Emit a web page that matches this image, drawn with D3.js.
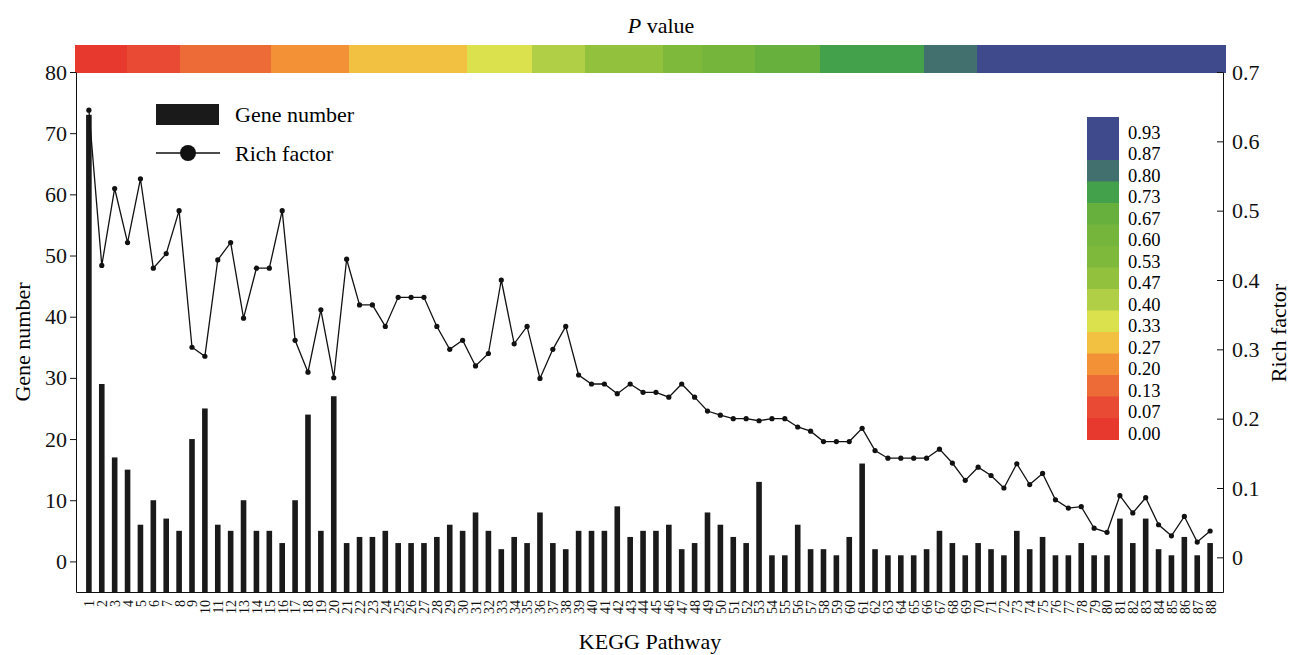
<!DOCTYPE html>
<html>
<head>
<meta charset="utf-8">
<script src="https://cdn.jsdelivr.net/npm/d3@7"></script>
<style>
  body { margin: 0; background: #fff; }
  svg { display: block; font-family: "Liberation Serif", "Times New Roman", serif; }
  .axis path, .axis line { stroke: #111; }
  .axis text { fill: #111; }
</style>
</head>
<body>
<div id="chart"></div>
<script>
// KEGG pathway ids
const pathways = ["1","2","3","4","5","6","7","8","9","10","11","12","13","14","15","16","17","18","19","20",
  "21","22","23","24","25","26","27","28","29","30","31","32","33","34","35","36","37","38","39","40",
  "41","42","43","44","45","46","47","48","49","50","51","52","53","54","55","56","57","58","59","60",
  "61","62","63","64","65","66","67","68","69","70","71","72","73","74","75","76","77","78","79","80",
  "81","82","83","84","85","86","87","88"];

const geneNumber = [73,29,17,15,6,10,7,5,20,25, 6,5,10,5,5,3,10,24,5,27,
  3,4,4,5,3,3,3,4,6,5, 8,5,2,4,3,8,3,2,5,5,
  5,9,4,5,5,6,2,3,8,6, 4,3,13,1,1,6,2,2,1,4,
  16,2,1,1,1,2,5,3,1,3, 2,1,5,2,4,1,1,3,1,1,
  7,3,7,2,1,4,1,3];

const richFactor = [0.645,0.421,0.532,0.454,0.546,0.417,0.438,0.500,0.303,0.290,
  0.429,0.454,0.345,0.417,0.417,0.500,0.313,0.267,0.357,0.259,
  0.430,0.364,0.364,0.333,0.375,0.375,0.375,0.333,0.300,0.313,
  0.276,0.294,0.400,0.308,0.333,0.258,0.300,0.333,0.263,0.250,
  0.250,0.236,0.250,0.238,0.238,0.231,0.250,0.231,0.211,0.205,
  0.200,0.200,0.197,0.200,0.200,0.188,0.182,0.167,0.167,0.167,
  0.186,0.154,0.143,0.143,0.143,0.143,0.156,0.136,0.111,0.130,
  0.118,0.100,0.135,0.105,0.121,0.083,0.071,0.073,0.042,0.036,
  0.089,0.064,0.086,0.047,0.031,0.059,0.022,0.038];

// P value of each pathway (estimated from the colour strip)
const pValue = [0.001,0.004,0.012,0.031, 0.072,0.085,0.098,0.117,
  0.138,0.144,0.152,0.161,0.173,0.182,0.195,
  0.204,0.213,0.226,0.238,0.247,0.259,
  0.271,0.276,0.284,0.291,0.298,0.305,0.314,0.322,0.329,
  0.341,0.352,0.366,0.379,0.392,
  0.405,0.418,0.437,0.455,
  0.471,0.482,0.494,0.506,0.517,0.528,
  0.548,0.566,0.589,
  0.608,0.624,0.639,0.655,
  0.672,0.688,0.701,0.714,0.726,
  0.738,0.745,0.753,0.761,0.768,0.776,0.784,0.793,
  0.812,0.829,0.841,0.858,
  0.871,0.876,0.882,0.889,0.895,0.901,0.908,0.914,0.921,0.927,
  0.934,0.941,0.947,0.954,0.962,0.969,0.977,0.985,0.993];

const pColors = ["#e8392f","#e84a33","#ed6b37","#f39137","#f3c142","#dbe04d","#b1cf46",
  "#92c13e","#7fb93b","#75b53c","#67b03e","#44a14b","#41706f","#3f4a8c","#3f4a8c"];
const pLabels = ["0.00","0.07","0.13","0.20","0.27","0.33","0.40","0.47",
  "0.53","0.60","0.67","0.73","0.80","0.87","0.93"];

const geneTicks = [0,10,20,30,40,50,60,70,80];
const richTicks = [0,0.1,0.2,0.3,0.4,0.5,0.6,0.7];

const width = 1293, height = 655;
const plotLeft = 76, plotRight = 1223, plotTop = 72, plotBottom = 592;

const svg = d3.select("#chart").append("svg")
  .attr("width", width)
  .attr("height", height);

const x = d3.scalePoint().domain(pathways).range([plotLeft, plotRight]).padding(1);
const xBand = d3.scaleBand().domain(pathways).range([plotLeft - 1, plotRight + 2]);
const yL = d3.scaleLinear().domain([-5, 80]).range([plotBottom, plotTop]);
const yR = d3.scaleLinear().domain([-0.05, 0.7]).range([plotBottom, plotTop]);
const pColor = d3.scaleQuantize().domain([0, 1]).range(pColors);

// P value strip along the top
svg.append("g")
  .attr("shape-rendering", "crispEdges")
  .selectAll("rect")
  .data(pathways)
  .join("rect")
  .attr("x", d => xBand(d))
  .attr("y", 45)
  .attr("width", xBand.bandwidth() + 0.6)
  .attr("height", 28)
  .attr("fill", (d, i) => pColor(pValue[i]));

svg.append("text")
  .attr("x", 661).attr("y", 33)
  .attr("text-anchor", "middle")
  .attr("font-size", 22)
  .call(t => t.append("tspan").attr("font-style", "italic").text("P"))
  .call(t => t.append("tspan").text(" value"));

// bars
svg.append("g")
  .selectAll("rect")
  .data(geneNumber)
  .join("rect")
  .attr("x", (d, i) => x(pathways[i]) - 2.8)
  .attr("width", 5.6)
  .attr("y", d => yL(d))
  .attr("height", d => yL(-5) - yL(d))
  .attr("fill", "#1a1a1a");

// rich factor line
const line = d3.line()
  .x((d, i) => x(pathways[i]))
  .y(d => yR(d));

svg.append("path")
  .datum(richFactor)
  .attr("fill", "none")
  .attr("stroke", "#111")
  .attr("stroke-width", 1.3)
  .attr("d", line);

svg.append("g")
  .selectAll("circle")
  .data(richFactor)
  .join("circle")
  .attr("cx", (d, i) => x(pathways[i]))
  .attr("cy", d => yR(d))
  .attr("r", 2.6)
  .attr("fill", "#111");

// axes
svg.append("g")
  .attr("class", "axis")
  .attr("transform", `translate(${plotLeft},0)`)
  .call(d3.axisLeft(yL).tickValues(geneTicks).tickSize(6).tickSizeOuter(0).tickPadding(3))
  .attr("font-family", null)
  .attr("font-size", 22);

svg.append("g")
  .attr("class", "axis")
  .attr("transform", `translate(${plotRight},0)`)
  .call(d3.axisRight(yR).tickValues(richTicks).tickSize(-6).tickSizeOuter(0).tickPadding(9)
    .tickFormat(d => d === 0 ? "0" : d3.format(".1f")(d)))
  .attr("font-family", null)
  .attr("font-size", 22);

svg.append("g")
  .attr("class", "axis")
  .attr("transform", `translate(0,${plotBottom})`)
  .call(d3.axisBottom(x).tickSize(0).tickSizeOuter(0))
  .attr("font-family", null)
  .attr("font-size", 14)
  .call(g => g.selectAll("text")
    .attr("transform", "rotate(-90)")
    .attr("x", -8)
    .attr("y", 0)
    .attr("dy", "0.35em")
    .attr("text-anchor", "end"));

// axis titles
svg.append("text")
  .attr("transform", "translate(30,342) rotate(-90)")
  .attr("text-anchor", "middle")
  .attr("font-size", 22)
  .text("Gene number");

svg.append("text")
  .attr("transform", "translate(1286,333) rotate(-90)")
  .attr("text-anchor", "middle")
  .attr("font-size", 22)
  .text("Rich factor");

svg.append("text")
  .attr("x", 650).attr("y", 649)
  .attr("text-anchor", "middle")
  .attr("font-size", 22)
  .text("KEGG Pathway");

// series legend
const legend = svg.append("g");
legend.append("rect")
  .attr("x", 156).attr("y", 104).attr("width", 63).attr("height", 21)
  .attr("fill", "#1a1a1a");
legend.append("text")
  .attr("x", 235).attr("y", 122)
  .attr("font-size", 22)
  .text("Gene number");
legend.append("line")
  .attr("x1", 156).attr("x2", 220).attr("y1", 153).attr("y2", 153)
  .attr("stroke", "#111").attr("stroke-width", 1.3);
legend.append("circle")
  .attr("cx", 188).attr("cy", 153).attr("r", 8)
  .attr("fill", "#111");
legend.append("text")
  .attr("x", 235).attr("y", 161)
  .attr("font-size", 22)
  .text("Rich factor");

// P value colour legend
const boxH = 21.5;
const pLegend = svg.append("g").attr("transform", "translate(1087,117)");
const rows = pColors.map((c, i) => ({ color: c, label: pLabels[i] })).reverse();

pLegend.selectAll("rect")
  .data(rows)
  .join("rect")
  .attr("x", 0)
  .attr("y", (d, i) => i * boxH)
  .attr("width", 32)
  .attr("height", boxH + 0.5)
  .attr("fill", d => d.color);

pLegend.selectAll("text")
  .data(rows)
  .join("text")
  .attr("x", 41)
  .attr("y", (d, i) => i * boxH + boxH / 2 + 11)
  .attr("font-size", 18.5)
  .text(d => d.label);
</script>
</body>
</html>
